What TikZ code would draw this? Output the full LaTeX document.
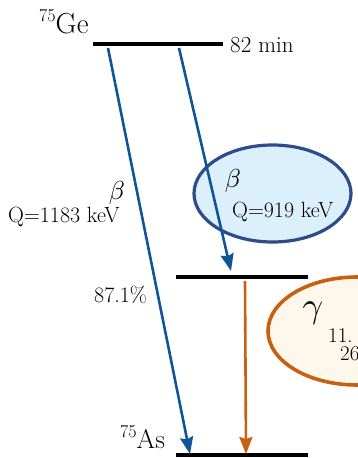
\documentclass[tikz,border=0pt]{standalone}
\usetikzlibrary{arrows.meta,shapes.geometric}
\definecolor{arrblue}{RGB}{18,84,152}
\definecolor{ellblue}{RGB}{46,76,140}
\definecolor{fillblue}{RGB}{219,240,250}
\definecolor{arrorange}{RGB}{200,96,16}
\definecolor{fillorange}{RGB}{254,248,236}
\newcommand{\qfont}{\fontsize{22}{26}\selectfont}
\tikzset{
  level/.style={line width=4pt},
  betaarrow/.style={arrblue, line width=2.6pt, -{Stealth[length=17pt,width=13pt,inset=2pt]}},
  gammaarrow/.style={arrorange, line width=2.6pt, -{Stealth[length=17pt,width=13pt,inset=2pt]}},
  lbl/.style={inner sep=0pt},
}
\begin{document}
\begin{tikzpicture}[x=1pt,y=-1pt]
\useasboundingbox (0,0) rectangle (358,458);
\clip (0,0) rectangle (358,458);
% ellipses
\node[draw=ellblue, fill=fillblue, line width=3.2pt, shape=ellipse, minimum width=157pt, minimum height=97pt, inner sep=0pt] (be) at (272.5,193.5) {};
\node[draw=arrorange, fill=fillorange, line width=3.6pt, shape=ellipse, minimum width=178pt, minimum height=108pt, inner sep=0pt] (ge) at (357,331) {};
% levels
\coordinate (t1) at (93,44);  \coordinate (t2) at (223,44);
\coordinate (m1) at (176,277); \coordinate (m2) at (308,277);
\coordinate (b1) at (176,455); \coordinate (b2) at (308,455);
\draw[level] (t1) -- (t2);
\draw[level] (m1) -- (m2);
\draw[level] (b1) -- (b2);
% arrows
\coordinate (a1s) at (108,48); \coordinate (a1e) at (190,454);
\coordinate (a2s) at (179,48); \coordinate (a2e) at (231,271);
\coordinate (a3s) at (245,281); \coordinate (a3e) at (246,454);
\draw[betaarrow] (a1s) -- (a1e);
\draw[betaarrow] (a2s) -- (a2e);
\draw[gammaarrow] (a3s) -- (a3e);
% labels
\node[lbl, anchor=base west] (ge75) at (39,33) {\fontsize{29}{32}\selectfont\raisebox{0.38em}{\fontsize{18}{20}\selectfont 75}Ge};
\node[lbl, anchor=base west] (hl) at (230,52) {\fontsize{23}{26}\selectfont 82 min};
\node[lbl] (b1l) at (117,193) {\scalebox{2.6}{$\beta$}};
\node[lbl, anchor=base west] (q1) at (8,222) {\qfont Q=1183 keV};
\node[lbl, anchor=base west] (br) at (94,302) {\qfont 87.1\%};
\node[lbl] (b2l) at (233,181) {\scalebox{2.6}{$\beta$}};
\node[lbl, anchor=base west] (q2) at (232,217) {\qfont Q=919 keV};
\node[lbl] (gl) at (313,313) {\scalebox{3.6}{$\gamma$}};
\node[lbl, anchor=base west, align=left, font=\fontsize{21}{18}\selectfont] (gi) at (328,360) {11.\\\hspace*{12pt}26};
\node[lbl, anchor=base west] (as75) at (120,448) {\fontsize{27}{30}\selectfont\raisebox{0.38em}{\fontsize{18}{20}\selectfont 75}As};
\end{tikzpicture}
\end{document}
